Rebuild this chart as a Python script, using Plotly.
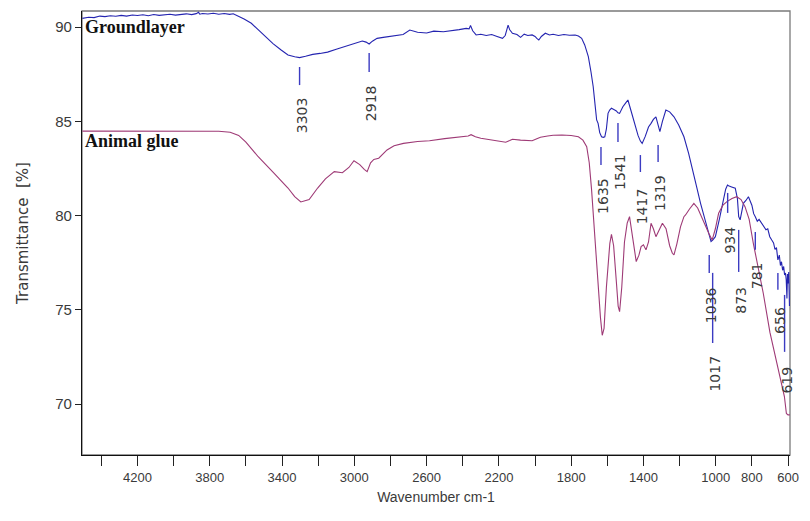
import plotly.graph_objects as go

# ---------------- data ----------------
ground_wn = [4505, 4470, 4440, 4408, 4380, 4350, 4320, 4290, 4260, 4228, 4200, 4170, 4140, 4110,
             4080, 4050, 4020, 3990, 3960, 3930, 3900, 3875, 3862, 3855, 3840, 3810, 3780, 3750,
             3720, 3690, 3670, 3650, 3641, 3610, 3570, 3530, 3493, 3450, 3405, 3367, 3330, 3303,
             3270, 3230, 3190, 3148, 3100, 3060, 3039, 3000, 2970, 2956, 2935, 2918, 2900, 2874,
             2840, 2800, 2765, 2730, 2693, 2650, 2600, 2560, 2507, 2460, 2420, 2381, 2365, 2357,
             2345, 2326, 2300, 2270, 2240, 2210, 2180, 2165, 2149, 2140, 2125, 2100, 2080, 2060,
             2040, 2016, 2000, 1990, 1979, 1965, 1943, 1920, 1900, 1870, 1840, 1810, 1778, 1760,
             1742, 1725, 1705, 1690, 1678, 1668, 1659, 1651, 1642, 1632, 1622, 1614, 1605, 1596,
             1587, 1577, 1568, 1559, 1550, 1541, 1532, 1523, 1514, 1500, 1486, 1470, 1450, 1430,
             1417, 1407, 1390, 1372, 1358, 1345, 1331, 1319, 1309, 1295, 1276, 1255, 1231, 1205,
             1176, 1150, 1130, 1105, 1084, 1066, 1048, 1036, 1026, 1017, 1002, 980, 956, 945,
             935, 929, 912, 892, 880, 873, 865, 856, 847, 833, 819, 800, 790, 781, 770, 760,
             746, 735, 722, 712, 701, 690, 680, 672, 664, 656, 648, 642, 636, 630, 624, 619,
             614, 610, 606, 603, 600, 596, 592]
ground_t = [90.46, 90.52, 90.50, 90.58, 90.55, 90.60, 90.57, 90.62, 90.58, 90.64, 90.61, 90.65,
            90.60, 90.66, 90.62, 90.64, 90.68, 90.63, 90.66, 90.70, 90.66, 90.71, 90.78, 90.68,
            90.72, 90.69, 90.73, 90.68, 90.72, 90.67, 90.70, 90.62, 90.55, 90.42, 90.20, 89.85,
            89.49, 89.12, 88.78, 88.52, 88.42, 88.38, 88.45, 88.55, 88.60, 88.67, 88.82, 88.95,
            89.00, 89.12, 89.22, 89.26, 89.20, 89.10, 89.25, 89.40, 89.45, 89.50, 89.55, 89.60,
            89.84, 89.72, 89.68, 89.78, 89.75, 89.80, 89.86, 89.93, 89.90, 90.08, 89.80, 89.58,
            89.62, 89.55, 89.60, 89.50, 89.40, 89.55, 90.10, 89.85, 89.67, 89.60, 89.45, 89.62,
            89.55, 89.58, 89.50, 89.40, 89.31, 89.50, 89.67, 89.58, 89.62, 89.55, 89.60, 89.56,
            89.58, 89.52, 89.40, 89.05, 88.43, 87.60, 86.83, 85.90, 85.07, 84.89, 84.40, 84.18,
            84.15, 84.18, 84.60, 85.42, 85.60, 85.69, 85.62, 85.60, 85.55, 85.45, 85.42, 85.60,
            85.77, 85.95, 86.13, 85.60, 84.89, 84.25, 83.95, 83.83, 84.20, 84.70, 84.89, 85.10,
            85.24, 84.80, 84.45, 85.00, 85.60, 85.50, 85.24, 84.80, 84.18, 83.30, 82.42, 81.50,
            80.65, 80.00, 79.41, 78.95, 78.62, 78.70, 78.88, 79.80, 80.83, 81.40, 81.62, 81.58,
            81.52, 81.45, 80.90, 79.95, 79.77, 80.20, 80.65, 80.80, 81.00, 80.55, 80.10, 79.94,
            79.70, 79.80, 79.59, 79.45, 79.25, 79.30, 78.88, 78.70, 78.55, 78.20, 78.30, 77.65,
            77.90, 77.35, 77.55, 77.10, 77.30, 76.85, 76.95, 76.60, 75.60, 76.90, 76.40, 77.00,
            75.20, 76.60, 76.20]

glue_wn = [4505, 4300, 4100, 3900, 3860, 3750, 3687, 3640, 3600, 3532, 3450, 3367, 3330, 3296,
           3250, 3203, 3160, 3111, 3066, 3030, 3002, 2970, 2945, 2929, 2910, 2892, 2865, 2840,
           2819, 2780, 2728, 2650, 2584, 2500, 2399, 2370, 2354, 2330, 2300, 2271, 2230, 2200,
           2162, 2140, 2125, 2080, 2040, 2016, 1990, 1970, 1930, 1900, 1851, 1800, 1760, 1735,
           1714, 1700, 1687, 1670, 1650, 1638, 1628, 1618, 1605, 1592, 1586, 1577, 1565, 1550,
           1540, 1532, 1520, 1505, 1490, 1477, 1465, 1450, 1440, 1425, 1413, 1400, 1386, 1372,
           1358, 1345, 1331, 1315, 1295, 1275, 1255, 1240, 1231, 1215, 1195, 1176, 1167, 1145,
           1121, 1100, 1078, 1057, 1038, 1020, 1002, 984, 960, 938, 910, 884, 860, 838, 815,
           792, 765, 737, 700, 682, 664, 640, 620, 609, 600, 590]
glue_t = [84.48, 84.48, 84.48, 84.48, 84.47, 84.47, 84.42, 84.25, 83.90, 83.12, 82.30, 81.46,
          81.00, 80.72, 80.85, 81.46, 81.95, 82.33, 82.27, 82.55, 82.91, 82.70, 82.45, 82.33,
          82.80, 82.98, 83.04, 83.30, 83.48, 83.70, 83.83, 83.93, 83.97, 84.08, 84.18, 84.22,
          84.29, 84.18, 84.10, 84.06, 83.98, 83.95, 83.89, 83.98, 84.05, 84.00, 83.98, 83.97,
          84.08, 84.15, 84.22, 84.26, 84.27, 84.25, 84.18, 84.00, 83.65, 82.80, 81.36, 78.80,
          76.06, 74.60, 73.65, 74.02, 76.20, 78.00, 78.53, 79.00, 78.40, 76.50, 75.20, 74.90,
          76.20, 78.60, 79.60, 79.94, 79.10, 78.00, 77.56, 77.90, 78.35, 78.45, 78.18, 78.60,
          79.59, 79.30, 78.88, 79.20, 79.59, 79.30, 78.40, 78.00, 77.91, 78.50, 79.40, 79.94,
          80.03, 80.35, 80.65, 80.40, 79.90, 79.41, 79.05, 78.70, 79.30, 80.12, 80.55, 80.74,
          80.90, 81.00, 80.85, 80.47, 79.80, 78.53, 77.30, 75.88, 73.80, 73.00, 72.34, 71.30,
          70.40, 69.50, 69.43, 69.43]

peak_wn = [3303, 2918, 1635, 1541, 1417, 1319, 1036, 1017, 934, 873, 781, 656, 619]
peak_text = ["3303", "2918", "1635", "1541", "1417", "1319", "1036", "1017", "934", "873", "781",
             "656", "619"]

y_ticks = [70, 75, 80, 85, 90]
x_ticks = [4400, 4200, 4000, 3800, 3600, 3400, 3200, 3000, 2800, 2600, 2400, 2200, 2000, 1800,
           1600, 1400, 1200, 1000, 800, 600]
x_tick_text = ["", "4200", "", "3800", "", "3400", "", "3000", "", "2600", "", "2200", "", "1800",
               "", "1400", "", "1000", "800", "600"]

# ---------------- layout helpers (positions in data units) ----------------
marker_top = [87.88, 88.62, 83.64, 84.91, 83.21, 83.74, 77.91, 76.96, 81.20, 79.24, 79.13, 76.96, 75.79]
marker_bot = [86.92, 87.61, 82.68, 83.90, 82.31, 82.84, 76.96, 73.24, 80.14, 77.01, 78.18, 76.06, 72.77]
label_y = [85.30, 85.97, 81.04, 82.31, 80.51, 81.20, 75.26, 71.60, 78.71, 75.52, 76.80, 74.46, 71.28]

BLUE = "#2424b0"
GLUE = "#9e3a76"
MARK = "#3b3bc2"
TXT = "#3a3a3a"
NARROW = "Liberation Sans Narrow, Arial Narrow, Liberation Sans, Arial, sans-serif"

fig = go.Figure()
fig.add_trace(go.Scatter(x=ground_wn, y=ground_t, mode="lines", line=dict(color=BLUE, width=1.1),
                         name="Groundlayer", showlegend=False, hoverinfo="skip"))
fig.add_trace(go.Scatter(x=glue_wn, y=glue_t, mode="lines", line=dict(color=GLUE, width=1.1),
                         name="Animal glue", showlegend=False, hoverinfo="skip"))

for wn, t0, t1, ly, txt in zip(peak_wn, marker_top, marker_bot, label_y, peak_text):
    fig.add_shape(type="line", xref="x", yref="y", x0=wn, x1=wn, y0=t0, y1=t1,
                  line=dict(color=MARK, width=1.4))
    fig.add_annotation(x=wn, y=ly, xref="x", yref="y", text=txt, textangle=-90,
                       showarrow=False, xanchor="center", yanchor="middle", xshift=2,
                       font=dict(family="DejaVu Sans, sans-serif", size=14, color=TXT))

fig.add_annotation(x=0.002, y=90.0, xref="paper", yref="y", text="<b>Groundlayer</b>",
                   showarrow=False, xanchor="left", yanchor="middle",
                   font=dict(family="Liberation Serif, Times New Roman, serif", size=18, color="#111111"))
fig.add_annotation(x=0.002, y=83.95, xref="paper", yref="y", text="<b>Animal glue</b>",
                   showarrow=False, xanchor="left", yanchor="middle",
                   font=dict(family="Liberation Serif, Times New Roman, serif", size=18, color="#111111"))

# gray frame (top/right)
fig.add_shape(type="rect", xref="paper", yref="paper", x0=0, x1=1, y0=0, y1=1,
              line=dict(color="#7a7a7a", width=1.3), layer="below")

fig.update_layout(
    width=810, height=521,
    margin=dict(l=82, r=13, t=11, b=66),
    paper_bgcolor="white", plot_bgcolor="white",
    showlegend=False,
)
fig.update_xaxes(range=[4507, 589], tickmode="array", tickvals=x_ticks, ticktext=x_tick_text,
                 ticks="outside", ticklen=10, tickcolor="#222222", tickwidth=1,
                 showline=True, linecolor="#111111", linewidth=1.3, showgrid=False, zeroline=False,
                 tickfont=dict(family=NARROW, size=13, color=TXT),
                 title=dict(text="Wavenumber cm-1", font=dict(family=NARROW, size=14, color=TXT),
                            standoff=8))
fig.update_yaxes(range=[67.3, 90.85], tickmode="array", tickvals=y_ticks,
                 ticks="outside", ticklen=6, tickcolor="#222222", tickwidth=1,
                 showline=True, linecolor="#111111", linewidth=1.3, showgrid=False, zeroline=False,
                 tickfont=dict(family=NARROW, size=15, color=TXT),
                 title=dict(text="Transmittance  [%]", font=dict(family="DejaVu Sans, sans-serif", size=15, color=TXT),
                            standoff=22))

fig.write_html("out.html")
